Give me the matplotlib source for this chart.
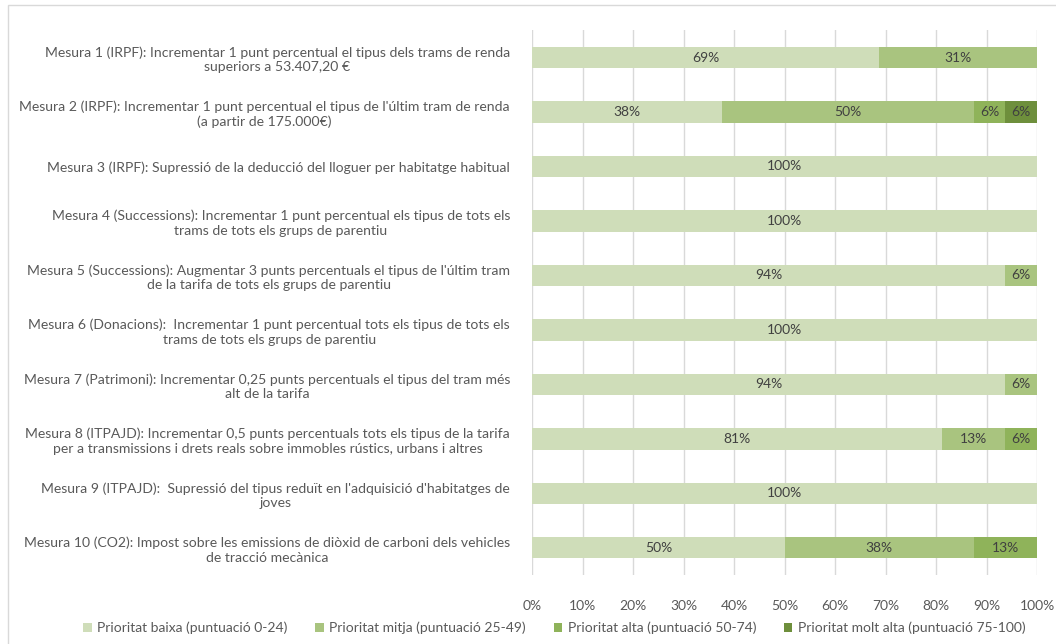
import matplotlib.pyplot as plt
from matplotlib.patches import Rectangle

plt.rcParams['font.family'] = ['Lato', 'DejaVu Sans']

labels = [
    "Mesura 1 (IRPF): Incrementar 1 punt percentual el tipus dels trams de renda\nsuperiors a 53.407,20 €",
    "Mesura 2 (IRPF): Incrementar 1 punt percentual el tipus de l'últim tram de renda\n(a partir de 175.000€)",
    "Mesura 3 (IRPF): Supressió de la deducció del lloguer per habitatge habitual",
    "Mesura 4 (Successions): Incrementar 1 punt percentual els tipus de tots els\ntrams de tots els grups de parentiu",
    "Mesura 5 (Successions): Augmentar 3 punts percentuals el tipus de l'últim tram\nde la tarifa de tots els grups de parentiu",
    "Mesura 6 (Donacions):  Incrementar 1 punt percentual tots els tipus de tots els\ntrams de tots els grups de parentiu",
    "Mesura 7 (Patrimoni): Incrementar 0,25 punts percentuals el tipus del tram més\nalt de la tarifa",
    "Mesura 8 (ITPAJD): Incrementar 0,5 punts percentuals tots els tipus de la tarifa\nper a transmissions i drets reals sobre immobles rústics, urbans i altres",
    "Mesura 9 (ITPAJD):  Supressió del tipus reduït en l'adquisició d'habitatges de\njoves",
    "Mesura 10 (CO2): Impost sobre les emissions de diòxid de carboni dels vehicles\nde tracció mecànica",
]

series_names = [
    "Prioritat baixa (puntuació 0-24)",
    "Prioritat mitja (puntuació 25-49)",
    "Prioritat alta (puntuació 50-74)",
    "Prioritat molt alta (puntuació 75-100)",
]

baixa = [68.75, 37.5, 100, 100, 93.75, 100, 93.75, 81.25, 100, 50]
mitja = [31.25, 50, 0, 0, 6.25, 0, 6.25, 12.5, 0, 37.5]
alta = [0, 6.25, 0, 0, 0, 0, 0, 6.25, 0, 12.5]
molt_alta = [0, 6.25, 0, 0, 0, 0, 0, 0, 0, 0]

colors = ['#cfddb9', '#a9c47f', '#8fb35a', '#6e8f3c']

fig = plt.figure(figsize=(10.56, 6.44), dpi=100)
ax = fig.add_axes([0.504, 0.107, 0.478, 0.846])

y = list(range(len(labels)))
left = [0] * len(labels)
for name, vals, col in zip(series_names, [baixa, mitja, alta, molt_alta], colors):
    bars = ax.barh(y, vals, left=left, height=0.39, color=col, label=name, zorder=2)
    for b, v in zip(bars, vals):
        if v > 0:
            ax.text(b.get_x() + b.get_width() / 2, b.get_y() + b.get_height() / 2,
                    f"{int(v + 0.5)}%", ha='center', va='center', fontsize=10,
                    color='#404040', zorder=3)
    left = [a + b for a, b in zip(left, vals)]

ax.set_xlim(0, 100)
ax.set_ylim(9.5, -0.5)
ax.set_xticks(range(0, 101, 10))
ax.set_xticklabels([f"{t}%" for t in range(0, 101, 10)], color='#595959', fontsize=10)
ax.set_yticks(y)
ax.set_yticklabels(labels, color='#595959', fontsize=10.1, multialignment='center',
                   linespacing=1.25)
ax.tick_params(axis='y', length=0, pad=16)
ax.tick_params(axis='x', length=0, pad=18)
ax.grid(axis='x', color='#d9d9d9', linewidth=1, zorder=0)
for s in ax.spines.values():
    s.set_visible(False)

fig.legend(loc='center', bbox_to_anchor=(0.525, 0.025), ncol=4, frameon=False,
           fontsize=10, handlelength=0.6, handleheight=0.6, handletextpad=0.4,
           columnspacing=2.0, labelcolor='#595959')

fig.patches.append(Rectangle((0.008, -0.01), 1.0, 1.002, transform=fig.transFigure,
                             fill=False, edgecolor='#d9d9d9', linewidth=1))

fig.savefig('out.png', dpi=100)
